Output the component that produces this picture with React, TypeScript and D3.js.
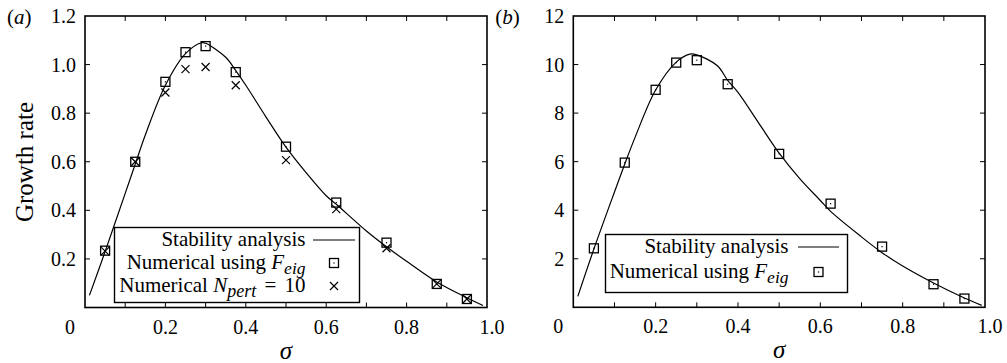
import React from 'react';
import * as d3 from 'd3';

// sample positions of the numerical runs
const sigmaRuns = [0.05, 0.125, 0.2, 0.25, 0.3, 0.375, 0.5, 0.625, 0.75, 0.875, 0.95];

// panel (a)
const eigA = [0.234, 0.6, 0.929, 1.051, 1.076, 0.969, 0.662, 0.432, 0.267, 0.097, 0.035];
const pertA = [0.232, 0.6, 0.885, 0.981, 0.99, 0.915, 0.607, 0.405, 0.244, 0.097, 0.035];
const curveSigmaA = [0.011, 0.05, 0.1, 0.125, 0.15, 0.2, 0.25, 0.29, 0.3, 0.35, 0.375, 0.4, 0.45, 0.5, 0.55, 0.6, 0.625, 0.7, 0.75, 0.8, 0.875, 0.95, 0.99];
const curveA = [0.05, 0.23, 0.47, 0.59, 0.71, 0.915, 1.045, 1.09, 1.088, 1.03, 0.975, 0.915, 0.785, 0.66, 0.555, 0.46, 0.425, 0.315, 0.25, 0.19, 0.105, 0.04, 0.008];

// panel (b)
const eigB = [2.43, 5.96, 8.96, 10.08, 10.18, 9.19, 6.32, 4.27, 2.5, 0.95, 0.36];
const curveSigmaB = [0.011, 0.05, 0.1, 0.125, 0.15, 0.2, 0.25, 0.283, 0.3, 0.35, 0.375, 0.4, 0.45, 0.5, 0.55, 0.6, 0.625, 0.7, 0.75, 0.8, 0.875, 0.95, 0.992];
const curveB = [0.45, 2.4, 4.75, 5.9, 7.0, 8.95, 10.1, 10.43, 10.4, 9.95, 9.35, 8.85, 7.6, 6.35, 5.3, 4.4, 3.95, 2.9, 2.25, 1.7, 1.0, 0.38, 0.08];

const xTicks = [0, 0.2, 0.4, 0.6, 0.8, 1.0];
const xMinorTicks = [0.1, 0.3, 0.5, 0.7, 0.9];
const yTicksA = [0.2, 0.4, 0.6, 0.8, 1.0, 1.2];
const yTicksB = [2, 4, 6, 8, 10, 12];

const FONT = 'Liberation Serif';

type Legend = { x0: number; y0: number; x1: number; y1: number; textX: number; sampleX0: number; sampleX1: number; rows: number[] };

type PanelProps = {
    left: number; right: number; top: number; bottom: number;
    yMax: number; yTicks: number[]; yFmt: (v: number) => string;
    curveX: number[]; curveY: number[];
    eig: number[]; pert?: number[];
    tag: string;
    legend: Legend;
};

const Square = ({ cx, cy }: { cx: number; cy: number }) => (
    <g>
        <rect x={cx - 4.5} y={cy - 4.5} width={9} height={9} fill="none" stroke="#000" strokeWidth={1.3} />
        <rect x={cx - 0.6} y={cy - 0.6} width={1.2} height={1.2} fill="#000" />
    </g>
);

const Cross = ({ cx, cy }: { cx: number; cy: number }) => {
    const r = 4;
    return (
        <path d={`M${cx - r},${cy - r}L${cx + r},${cy + r}M${cx - r},${cy + r}L${cx + r},${cy - r}`}
            stroke="#000" strokeWidth={1.2} fill="none" />
    );
};

const Panel = (p: PanelProps) => {
    const x = d3.scaleLinear().domain([0, 1]).range([p.left, p.right]);
    const y = d3.scaleLinear().domain([0, p.yMax]).range([p.bottom, p.top]);
    const tl = 5;
    const pts: [number, number][] = p.curveX.map((s, i) => [s, p.curveY[i]]);
    const line = d3.line<[number, number]>().x(d => x(d[0])).y(d => y(d[1])).curve(d3.curveCatmullRom);
    const L = p.legend;
    const mid = (L.sampleX0 + L.sampleX1) / 2;

    return (
        <g>
            {/* inward mirrored ticks */}
            {[...xTicks, ...xMinorTicks].filter(t => t > 0 && t < 1).map(t => (
                <g key={'xt' + t}>
                    <line x1={x(t)} x2={x(t)} y1={p.bottom} y2={p.bottom - tl} stroke="#000" />
                    <line x1={x(t)} x2={x(t)} y1={p.top} y2={p.top + tl} stroke="#000" />
                </g>
            ))}
            {p.yTicks.filter(t => t < p.yMax).map(t => (
                <g key={'yt' + t}>
                    <line x1={p.left} x2={p.left + tl} y1={y(t)} y2={y(t)} stroke="#000" />
                    <line x1={p.right} x2={p.right - tl} y1={y(t)} y2={y(t)} stroke="#000" />
                </g>
            ))}

            {/* tick labels */}
            {xTicks.map(t => (
                <text key={'xl' + t} x={x(t) + (t === 0 ? -15 : t === 1 ? 5 : 0)} y={p.bottom + 26}
                    fontFamily={FONT} fontSize={20} textAnchor="middle">
                    {t === 0 ? '0' : d3.format('.1f')(t)}
                </text>
            ))}
            {p.yTicks.map(t => (
                <text key={'yl' + t} x={p.left - 9} y={y(t) + 7} fontFamily={FONT} fontSize={20} textAnchor="end">
                    {p.yFmt(t)}
                </text>
            ))}

            <text x={(p.left + p.right) / 2} y={p.bottom + 51} fontFamily={FONT} fontSize={25}
                fontStyle="italic" textAnchor="middle">σ</text>

            <text x={p.left - 78} y={24} fontFamily={FONT} fontSize={21}>
                (<tspan fontStyle="italic">{p.tag}</tspan>)
            </text>

            <path d={line(pts) ?? ''} fill="none" stroke="#000" strokeWidth={1.2} />

            {sigmaRuns.map((s, i) => <Square key={'sq' + i} cx={x(s)} cy={y(p.eig[i])} />)}
            {p.pert && sigmaRuns.map((s, i) => <Cross key={'cr' + i} cx={x(s)} cy={y(p.pert![i])} />)}

            {/* legend */}
            <rect x={L.x0} y={L.y0} width={L.x1 - L.x0} height={L.y1 - L.y0} fill="#fff" stroke="#000" strokeWidth={1.4} />
            <text x={L.textX} y={L.rows[0]} fontFamily={FONT} fontSize={21} textAnchor="end">Stability analysis</text>
            <line x1={L.sampleX0} x2={L.sampleX1} y1={L.rows[0] - 6} y2={L.rows[0] - 6} stroke="#000" strokeWidth={1.2} />
            <text x={L.textX} y={L.rows[1]} fontFamily={FONT} fontSize={21} textAnchor="end">
                Numerical using <tspan fontStyle="italic">F</tspan>
                <tspan fontStyle="italic" fontSize={17.5} dy={5}>eig</tspan>
            </text>
            <Square cx={mid} cy={L.rows[1] - 6} />
            {p.pert && (
                <>
                    <text x={L.textX} y={L.rows[2]} fontFamily={FONT} fontSize={21} textAnchor="end">
                        Numerical <tspan fontStyle="italic">N</tspan>
                        <tspan fontStyle="italic" fontSize={18} dy={5}>pert</tspan>
                        <tspan dy={-5} dx={3}>{' = '}</tspan>
                        <tspan dx={3}>10</tspan>
                    </text>
                    <Cross cx={mid} cy={L.rows[2] - 6} />
                </>
            )}

            <rect x={p.left} y={p.top} width={p.right - p.left} height={p.bottom - p.top}
                fill="none" stroke="#000" strokeWidth={1.6} />
        </g>
    );
};

const App = () => (
    <svg width={1007} height={363} style={{ position: 'absolute', left: 0, top: 0, fontFamily: FONT }}>
        <rect width={1007} height={363} fill="#fff" />
        <Panel left={85} right={487} top={16} bottom={307.5}
            yMax={1.2} yTicks={yTicksA} yFmt={d3.format('.1f')}
            curveX={curveSigmaA} curveY={curveA} eig={eigA} pert={pertA} tag="a"
            legend={{ x0: 114.5, y0: 227.5, x1: 359.5, y1: 302.5, textX: 305.5, sampleX0: 313, sampleX1: 355, rows: [246, 269, 292] }} />
        <text transform="translate(33,162) rotate(-90)" textAnchor="middle" fontSize={25} fontFamily={FONT}>Growth rate</text>
        <Panel left={573.3} right={985} top={16} bottom={307.3}
            yMax={12} yTicks={yTicksB} yFmt={d3.format('d')}
            curveX={curveSigmaB} curveY={curveB} eig={eigB} tag="b"
            legend={{ x0: 605.5, y0: 234.5, x1: 847.5, y1: 292.5, textX: 788.5, sampleX0: 798, sampleX1: 839, rows: [253, 278] }} />
    </svg>
);

export default App;
